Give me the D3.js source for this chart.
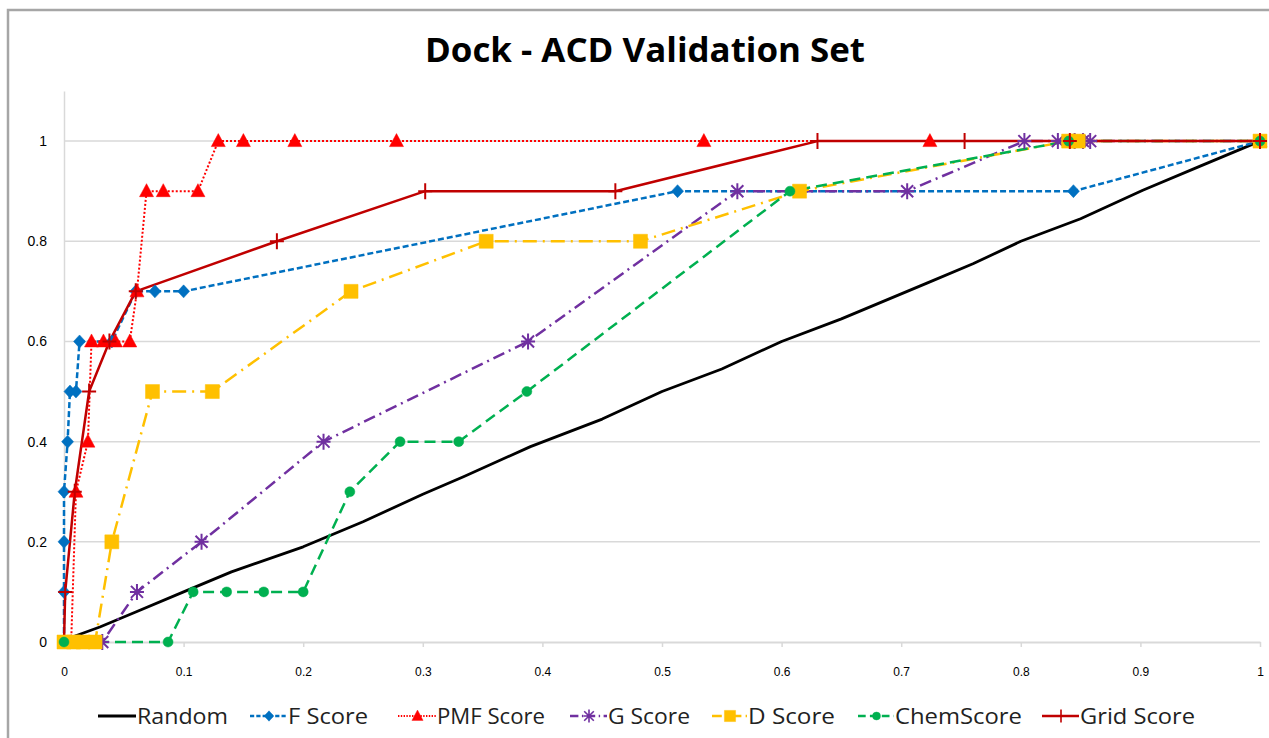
<!DOCTYPE html>
<html>
<head>
<meta charset="utf-8">
<script src="https://cdn.jsdelivr.net/npm/d3@7"></script>
<style>
  body { margin: 0; background: #fff; }
  svg { display: block; }
</style>
</head>
<body>
<svg id="chart" width="1269" height="738"></svg>
<script>
// values, [fpr, tpr]
const randomPts = [[0,0],[0.007,0.01],[0.03,0.03],[0.06,0.06],[0.1,0.1],[0.14,0.14],[0.2,0.19],[0.25,0.24],[0.3,0.295],[0.334,0.33],[0.39,0.39],[0.45,0.445],[0.5,0.5],[0.55,0.545],[0.6,0.6],[0.65,0.645],[0.722,0.717],[0.76,0.755],[0.8,0.8],[0.85,0.845],[0.902,0.902],[0.95,0.95],[1,1]];
const fScore = [[0,0],[0,0.1],[0,0.2],[0,0.3],[0.003,0.4],[0.005,0.5],[0.01,0.5],[0.013,0.6],[0.04,0.6],[0.06,0.7],[0.076,0.7],[0.1,0.7],[0.513,0.9],[0.844,0.9],[1,1]];
const pmfScore = [[0,0],[0.006,0],[0.01,0.3],[0.02,0.4],[0.023,0.6],[0.033,0.6],[0.043,0.6],[0.055,0.6],[0.061,0.7],[0.069,0.9],[0.083,0.9],[0.112,0.9],[0.129,1],[0.15,1],[0.193,1],[0.278,1],[0.535,1],[0.724,1],[1,1]];
const gScore = [[0,0],[0.032,0],[0.061,0.1],[0.115,0.2],[0.217,0.4],[0.388,0.6],[0.563,0.9],[0.705,0.9],[0.803,1],[0.831,1],[0.845,1],[0.852,1],[0.858,1],[1,1]];
const dScore = [[0,0],[0.008,0],[0.016,0],[0.026,0],[0.04,0.2],[0.074,0.5],[0.124,0.5],[0.24,0.7],[0.353,0.8],[0.482,0.8],[0.615,0.9],[0.84,1],[0.848,1],[1,1]];
const chemScore = [[0,0],[0.087,0],[0.108,0.1],[0.136,0.1],[0.167,0.1],[0.2,0.1],[0.239,0.3],[0.281,0.4],[0.33,0.4],[0.387,0.5],[0.607,0.9],[0.84,1],[1,1]];
const gridScore = [[0,0],[0.001,0.1],[0.009,0.3],[0.021,0.5],[0.038,0.6],[0.06,0.7],[0.178,0.8],[0.302,0.9],[0.461,0.9],[0.63,1],[0.753,1],[0.841,1],[1,1]];

const seriesNames = ["Random","F Score","PMF Score","G Score","D Score","ChemScore","Grid Score"];
const xTicks = [0,0.1,0.2,0.3,0.4,0.5,0.6,0.7,0.8,0.9,1];
const yTicks = [0,0.2,0.4,0.6,0.8,1];

const svg = d3.select("#chart");

const x = d3.scaleLinear().domain([0, 1]).range([64, 1260]);
const y = d3.scaleLinear().domain([0, 1.1]).range([642, 91]);

// outer frame
svg.append("rect")
  .attr("x", 8).attr("y", 10).attr("width", 1300).attr("height", 800)
  .attr("fill", "#fff").attr("stroke", "#a6a6a6").attr("stroke-width", 2.5);

// title
svg.append("text")
  .attr("x", 645).attr("y", 62)
  .attr("text-anchor", "middle")
  .attr("font-family", "Open Sans, sans-serif")
  .attr("font-weight", "bold")
  .attr("font-size", 34)
  .attr("textLength", 440)
  .attr("lengthAdjust", "spacingAndGlyphs")
  .attr("fill", "#000")
  .text("Dock - ACD Validation Set");

// gridlines
svg.append("g")
  .selectAll("line")
  .data(yTicks.filter(d => d > 0))
  .enter().append("line")
  .attr("x1", x(0)).attr("x2", x(1))
  .attr("y1", d => y(d)).attr("y2", d => y(d))
  .attr("stroke", "#d9d9d9").attr("stroke-width", 1.5);

// y axis
const yAxis = svg.append("g")
  .attr("transform", `translate(${x(0)},0)`)
  .call(d3.axisLeft(y).tickValues(yTicks).tickSize(0).tickPadding(17)
    .tickFormat(d => d === 0 ? "0" : d === 1 ? "1" : d3.format(".1f")(d)));
yAxis.select(".domain").attr("stroke", "#d9d9d9").attr("stroke-width", 1.5);
yAxis.selectAll("text")
  .attr("font-family", "Liberation Sans Narrow, Liberation Sans, sans-serif")
  .attr("font-size", 14).attr("fill", "#000");

// x axis
const xAxis = svg.append("g")
  .attr("transform", `translate(0,${y(0)})`)
  .call(d3.axisBottom(x).tickValues(xTicks).tickSizeInner(5).tickSizeOuter(0).tickPadding(20)
    .tickFormat(d => d === 0 ? "0" : d === 1 ? "1" : d3.format(".1f")(d)));
xAxis.select(".domain").attr("stroke", "#d9d9d9").attr("stroke-width", 2);
xAxis.selectAll(".tick line").attr("stroke", "#d9d9d9").attr("stroke-width", 1.5);
xAxis.selectAll("text")
  .attr("font-family", "Liberation Sans Narrow, Liberation Sans, sans-serif")
  .attr("font-size", 12).attr("fill", "#000");

const line = d3.line().x(d => x(d[0])).y(d => y(d[1]));

// marker shapes
const diamond = "M0,-6.5L6,0L0,6.5L-6,0Z";
const triangle = "M0,-7.5L7,5.5L-7,5.5Z";
const star = "M-6,-6L6,6M-6,6L6,-6M0,-8V8M-7,0H7";
const square = "M-7,-7H7V7H-7Z";
const circle = "M5,0A5,5 0 1,1 -5,0A5,5 0 1,1 5,0Z";
const plus = "M-7,0H7M0,-8V8";

const series = [
  { name: seriesNames[0], data: randomPts, color: "#000000", dash: null, width: 2.8, marker: null },
  { name: seriesNames[1], data: fScore, color: "#0070C0", dash: "6,3", width: 2.5, marker: diamond, fill: true },
  { name: seriesNames[2], data: pmfScore, color: "#FF0000", dash: "2,2", width: 2, marker: triangle, fill: true },
  { name: seriesNames[3], data: gScore, color: "#7030A0", dash: "12,5,2,5", width: 2.5, marker: star, fill: false },
  { name: seriesNames[4], data: dScore, color: "#FFC000", dash: "14,6,2,6", width: 2.5, marker: square, fill: true },
  { name: seriesNames[5], data: chemScore, color: "#00B050", dash: "11,6", width: 2.5, marker: circle, fill: true },
  { name: seriesNames[6], data: gridScore, color: "#C00000", dash: null, width: 2.5, marker: plus, fill: false }
];

const plot = svg.append("g");

series.forEach(s => {
  plot.append("path")
    .datum(s.data)
    .attr("fill", "none")
    .attr("stroke", s.color)
    .attr("stroke-width", s.width)
    .attr("stroke-dasharray", s.dash)
    .attr("stroke-linejoin", "round")
    .attr("d", line);
});

series.forEach(s => {
  if (!s.marker) return;
  plot.selectAll(null)
    .data(s.data.filter(d => !(d[0] === 0 && d[1] === 0 && s.name !== "D Score" && s.name !== "ChemScore" && s.name !== "F Score")))
    .enter().append("path")
    .attr("transform", d => `translate(${x(d[0])},${y(d[1])})`)
    .attr("d", s.marker)
    .attr("fill", s.fill ? s.color : "none")
    .attr("stroke", s.color)
    .attr("stroke-width", s.fill ? 0.5 : 2);
});

// legend
const legendPos = [
  { lx: 98, tx: 137, tw: 91 },
  { lx: 250, tx: 288, tw: 80 },
  { lx: 398, tx: 437, tw: 108 },
  { lx: 570, tx: 608, tw: 82 },
  { lx: 712, tx: 748, tw: 87 },
  { lx: 858, tx: 895, tw: 127 },
  { lx: 1042, tx: 1080, tw: 115 }
];
const legendY = 716;
const legend = svg.append("g");
series.forEach((s, i) => {
  const p = legendPos[i];
  const g = legend.append("g");
  g.append("line")
    .attr("x1", p.lx).attr("x2", p.tx - 1)
    .attr("y1", legendY).attr("y2", legendY)
    .attr("stroke", s.color).attr("stroke-width", s.width)
    .attr("stroke-dasharray", s.dash ? s.dash.split(",").map(v => +v * 0.7).join(",") : null);
  if (s.marker) {
    g.append("path")
      .attr("transform", `translate(${(p.lx + p.tx) / 2},${legendY}) scale(0.8)`)
      .attr("d", s.marker)
      .attr("fill", s.fill ? s.color : "none")
      .attr("stroke", s.color)
      .attr("stroke-width", s.fill ? 0.5 : 2);
  }
  g.append("text")
    .attr("x", p.tx).attr("y", legendY + 8)
    .attr("font-family", "Open Sans, sans-serif")
    .attr("font-size", 22)
    .attr("textLength", p.tw)
    .attr("lengthAdjust", "spacingAndGlyphs")
    .attr("fill", "#222")
    .text(s.name);
});
</script>
</body>
</html>
